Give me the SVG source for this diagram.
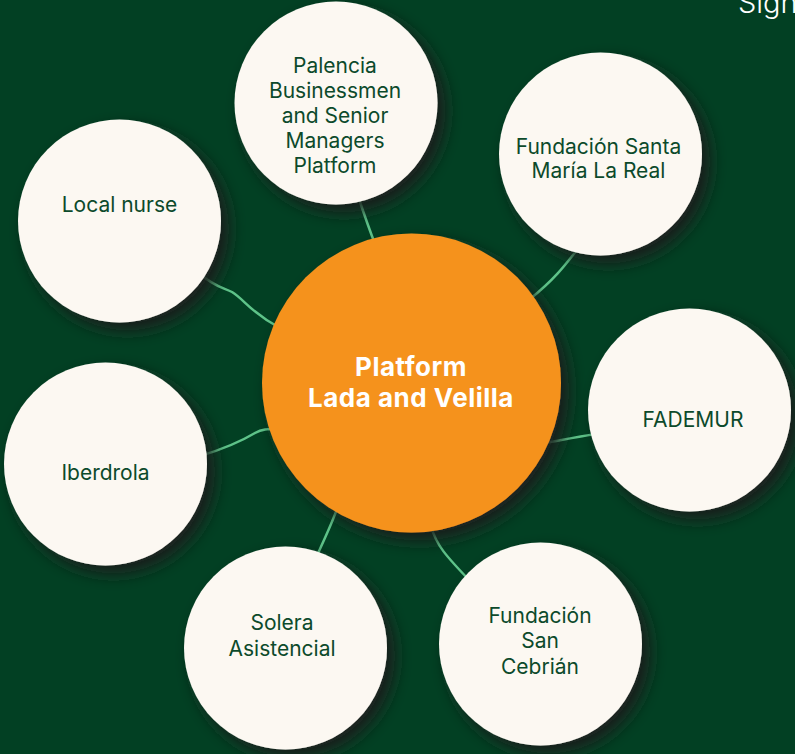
<svg xmlns="http://www.w3.org/2000/svg" width="795" height="754" viewBox="0 0 795 754">
<defs>
<filter id="sh" x="-30%" y="-30%" width="160%" height="160%">
<feDropShadow dx="8" dy="8" stdDeviation="8" flood-color="#1b1f1d" flood-opacity="0.95"/>
</filter>
<style>
.node{fill:#fcf8f2;filter:url(#sh)}
.hub{fill:#f5921f;filter:url(#sh)}
.t{font-family:Inter,"Noto Sans","Liberation Sans",sans-serif;font-size:21px;fill:#0c4a2b;text-anchor:middle}
.th{font-family:Inter,"Noto Sans","Liberation Sans",sans-serif;font-size:26px;font-weight:700;letter-spacing:0.5px;fill:#ffffff;text-anchor:middle}
.conn path{fill:none;stroke:#5ec389;stroke-width:2.5;stroke-linecap:round}
</style>
</defs>
<rect x="0" y="0" width="795" height="754" fill="#024023"/>
<text x="738" y="13" font-family="Inter,'Noto Sans','Liberation Sans',sans-serif" font-size="29" font-weight="300" fill="#ffffff">Sign</text>
<g id="connectors" class="conn">
<path d="M358,196 C364,214 368,226 375,244"/>
<path d="M200,274 C215,287 222,287 232,292 C245,300 250,312 280,328"/>
<path d="M580,246 C566,264 556,278 530,299"/>
<path d="M545,443 C562,440 576,437 596,434"/>
<path d="M200,456 C220,450 240,442 255,433 C262,429 268,429 276,429"/>
<path d="M338,506 C332,524 325,537 316,558"/>
<path d="M431,526 C436,545 446,556 471,582"/>
</g>
<g id="hub">
<circle class="hub" cx="411.5" cy="383" r="149.5"/>
<text class="th" x="411" y="375.7">Platform</text>
<text class="th" x="411" y="407.3">Lada and Velilla</text>
</g>
<g id="palencia">
<circle class="node" cx="336" cy="103" r="101.5"/>
<text class="t" x="335" y="72.7">Palencia</text>
<text class="t" x="335" y="97.7">Businessmen</text>
<text class="t" x="335" y="122.7">and Senior</text>
<text class="t" x="335" y="147.7">Managers</text>
<text class="t" x="335" y="172.7">Platform</text>
</g>
<g id="santa-maria">
<circle class="node" cx="600.5" cy="154" r="101.5"/>
<text class="t" x="598.5" y="154.3">Fundación Santa</text>
<text class="t" x="598.5" y="178.3">María La Real</text>
</g>
<g id="local-nurse">
<circle class="node" cx="119.5" cy="221" r="101.5"/>
<text class="t" x="119.5" y="212">Local nurse</text>
</g>
<g id="fademur">
<circle class="node" cx="689.5" cy="410" r="101.5"/>
<text class="t" x="693" y="427.3">FADEMUR</text>
</g>
<g id="iberdrola">
<circle class="node" cx="105.5" cy="464" r="101.5"/>
<text class="t" x="105.5" y="480">Iberdrola</text>
</g>
<g id="solera">
<circle class="node" cx="285.5" cy="648" r="101.5"/>
<text class="t" x="282" y="630">Solera</text>
<text class="t" x="282" y="655.7">Asistencial</text>
</g>
<g id="san-cebrian">
<circle class="node" cx="540.5" cy="644" r="101.5"/>
<text class="t" x="540" y="622.7">Fundación</text>
<text class="t" x="540" y="648.3">San</text>
<text class="t" x="540" y="674">Cebrián</text>
</g>
</svg>
